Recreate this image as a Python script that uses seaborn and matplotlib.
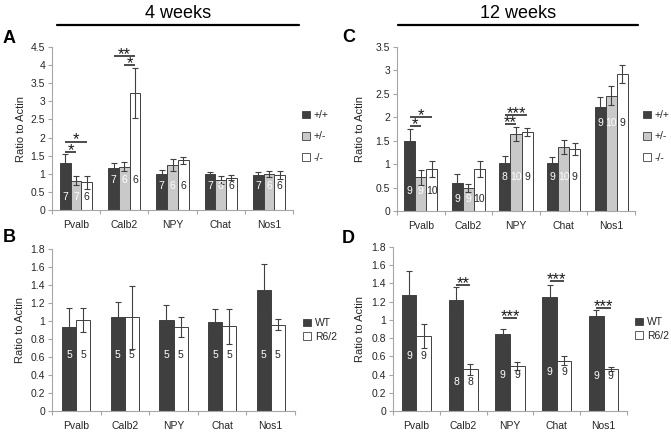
import pandas as pd
import matplotlib
matplotlib.use("Agg")
import matplotlib.pyplot as plt
import seaborn as sns
from matplotlib.patches import Patch
from matplotlib.lines import Line2D
from matplotlib.ticker import FuncFormatter, MultipleLocator

genes = ['Pvalb', 'Calb2', 'NPY', 'Chat', 'Nos1']
genotypes = ['+/+', '+/-', '-/-']
models = ['WT', 'R6/2']

# A: 4 weeks, knockout line
a_wt = [1.31, 1.15, 0.99, 1.00, 0.98]
a_het = [0.81, 1.20, 1.24, 0.83, 0.99]
a_ko = [0.76, 3.23, 1.37, 0.89, 0.97]
a_wt_err = [0.23, 0.14, 0.12, 0.04, 0.06]
a_het_err = [0.12, 0.12, 0.16, 0.10, 0.09]
a_ko_err = [0.18, 0.70, 0.09, 0.07, 0.12]
a_n = [[7, 7, 7, 7, 7], [7, 6, 6, 6, 6], [6, 6, 6, 6, 6]]
a_sig = [(0, 0, 1, 1.61, '*'), (0, 0, 2, 1.89, '*'),
         (1, 0, 2, 4.26, '**'), (1, 1, 2, 3.99, '*')]

# C: 12 weeks, knockout line
c_wt = [1.50, 0.59, 1.03, 1.03, 2.23]
c_het = [0.72, 0.49, 1.64, 1.37, 2.46]
c_ko = [0.89, 0.89, 1.69, 1.33, 2.92]
c_wt_err = [0.26, 0.20, 0.14, 0.12, 0.20]
c_het_err = [0.16, 0.09, 0.15, 0.15, 0.20]
c_ko_err = [0.17, 0.17, 0.09, 0.13, 0.19]
c_n = [[9, 9, 8, 9, 9], [9, 9, 10, 10, 10], [10, 10, 9, 9, 9]]
c_sig = [(0, 0, 1, 1.81, '*'), (0, 0, 2, 2.01, '*'),
         (2, 0, 1, 1.86, '**'), (2, 0, 2, 2.05, '***')]

# B: 4 weeks, R6/2
b_wt = [0.93, 1.05, 1.01, 0.99, 1.35]
b_r62 = [1.01, 1.04, 0.93, 0.94, 0.96]
b_wt_err = [0.21, 0.16, 0.17, 0.14, 0.28]
b_r62_err = [0.13, 0.35, 0.11, 0.19, 0.06]
b_n = [[5, 5, 5, 5, 5], [5, 5, 5, 5, 5]]
b_sig = []

# D: 12 weeks, R6/2
d_wt = [1.27, 1.22, 0.84, 1.25, 1.04]
d_r62 = [0.82, 0.46, 0.495, 0.55, 0.46]
d_wt_err = [0.27, 0.14, 0.06, 0.13, 0.07]
d_r62_err = [0.13, 0.06, 0.04, 0.05, 0.025]
d_n = [[9, 8, 9, 9, 9], [9, 8, 9, 9, 9]]
d_sig = [(1, 0, 1, 1.385, '**'), (2, 0, 1, 1.02, '***'),
         (3, 0, 1, 1.43, '***'), (4, 0, 1, 1.13, '***')]

W, H = 671, 433
sns.set_style("white")
plt.rcParams['font.family'] = ['Liberation Sans', 'DejaVu Sans']
fig = plt.figure(figsize=(W / 100, H / 100), dpi=100)

txt_c = '#262626'
axis_c = '#a6a6a6'
edge_c = '#404040'
fills3 = ['#3f3f3f', '#c9c9c9', '#ffffff']
fills2 = ['#3f3f3f', '#ffffff']


def px_axes(l, r, t, b):
    return fig.add_axes([l / W, 1 - b / H, (r - l) / W, (b - t) / H])


def panel(box, groups, means, errs, ns, label_y, sig, ymax, ystep, width,
          fills, ylab_x, leg_xy, leg_space):
    ax = px_axes(*box)
    rows = []
    for g, vals in zip(groups, means):
        for gene, v in zip(genes, vals):
            rows.append({'gene': gene, 'group': g, 'value': v})
    df = pd.DataFrame(rows)
    sns.barplot(data=df, x='gene', y='value', hue='group', order=genes,
                hue_order=groups, palette=fills, errorbar=None, width=width,
                edgecolor=edge_c, linewidth=0.7, legend=False, ax=ax)
    bar_conts = list(ax.containers)
    centers = []
    for i, cont in enumerate(bar_conts):
        xs = [b.get_x() + b.get_width() / 2 for b in cont]
        hs = [b.get_height() for b in cont]
        centers.append(xs)
        ax.errorbar(xs, hs, yerr=errs[i], fmt='none', ecolor=edge_c,
                    elinewidth=0.8, capsize=2.2, capthick=0.8)
        col = txt_c if fills[i] == '#ffffff' else 'white'
        for j, x in enumerate(xs):
            ax.text(x, label_y[j], str(ns[i][j]), ha='center', va='center',
                    fontsize=7.5, color=col)
    for gi, h1, h2, y, s in sig:
        x1, x2 = centers[h1][gi], centers[h2][gi]
        ax.plot([x1, x2], [y, y], color='#1a1a1a', lw=1.1,
                solid_capstyle='butt')
        ax.annotate(s, ((x1 + x2) / 2, y), xytext=(0, -2.2),
                    textcoords='offset points', ha='center', va='baseline',
                    fontsize=12, color='#1a1a1a')
    ax.set_xlim(-0.5, 4.5)
    ax.set_ylim(0, ymax)
    ax.yaxis.set_major_locator(MultipleLocator(ystep))
    ax.yaxis.set_major_formatter(FuncFormatter(lambda v, p: f'{v:g}'))
    ax.xaxis.set_minor_locator(MultipleLocator(1, offset=0.5))
    ax.set_xlabel('')
    ax.set_ylabel('Ratio to Actin', fontsize=8, color=txt_c)
    ax.yaxis.set_label_coords(ylab_x, 0.5)
    for s in ['top', 'right']:
        ax.spines[s].set_visible(False)
    for s in ['left', 'bottom']:
        ax.spines[s].set_color(axis_c)
        ax.spines[s].set_linewidth(0.8)
    ax.tick_params(axis='y', length=3, width=0.8, color=axis_c, pad=2,
                   labelsize=7.5, labelcolor=txt_c, left=True)
    ax.tick_params(axis='x', which='major', length=0, pad=7,
                   labelsize=7.5, labelcolor=txt_c)
    ax.tick_params(axis='x', which='minor', length=3, width=0.8,
                   color=axis_c, bottom=True)
    handles = [Patch(facecolor=f, edgecolor=edge_c, lw=0.6, label=g)
               for f, g in zip(fills, groups)]
    ax.legend(handles=handles, loc='upper left',
              bbox_to_anchor=(leg_xy[0] / W, 1 - leg_xy[1] / H),
              bbox_transform=fig.transFigure, frameon=False, fontsize=7.5,
              handlelength=0.75, handleheight=0.75, handletextpad=0.4,
              labelspacing=leg_space, borderpad=0, borderaxespad=0,
              labelcolor=txt_c)
    return ax


panel((52, 293, 47, 210), genotypes, [a_wt, a_het, a_ko],
      [a_wt_err, a_het_err, a_ko_err], a_n, [0.37, 0.83, 0.65, 0.65, 0.65],
      a_sig, 4.5, 0.5, 0.67, fills3, -0.108, (302, 110), 1.1)
panel((397, 635, 47, 211), genotypes, [c_wt, c_het, c_ko],
      [c_wt_err, c_het_err, c_ko_err], c_n, [0.43, 0.26, 0.73, 0.73, 1.87],
      c_sig, 3.5, 0.5, 0.7, fills3, -0.134, (643, 110), 1.1)
panel((52, 295, 249, 411), models, [b_wt, b_r62], [b_wt_err, b_r62_err],
      b_n, [0.62, 0.62, 0.62, 0.62, 0.62], b_sig, 1.8, 0.2, 0.58, fills2,
      -0.111, (303, 318), 0.35)
panel((393, 627, 247, 411), models, [d_wt, d_r62], [d_wt_err, d_r62_err],
      d_n, [0.6, 0.32, 0.39, 0.43, 0.38], d_sig, 1.8, 0.2, 0.62, fills2,
      -0.12, (635, 317), 0.35)

# headers and panel letters
for x0, x1, t in [(57, 299, '4 weeks'), (398, 638, '12 weeks')]:
    fig.add_artist(Line2D([x0 / W, x1 / W], [1 - 25 / H, 1 - 25 / H],
                          transform=fig.transFigure, color='black', lw=1.6))
    fig.text((x0 + x1) / 2 / W, 1 - 13 / H, t, ha='center', va='center',
             fontsize=13, color='black')
for x, y, t in [(3, 43, 'A'), (342, 42, 'C'), (3, 242, 'B'), (342, 243, 'D')]:
    fig.text(x / W, 1 - y / H, t, ha='left', va='baseline', fontsize=13,
             fontweight='bold', color='black')

fig.savefig('out.png', dpi=100)
